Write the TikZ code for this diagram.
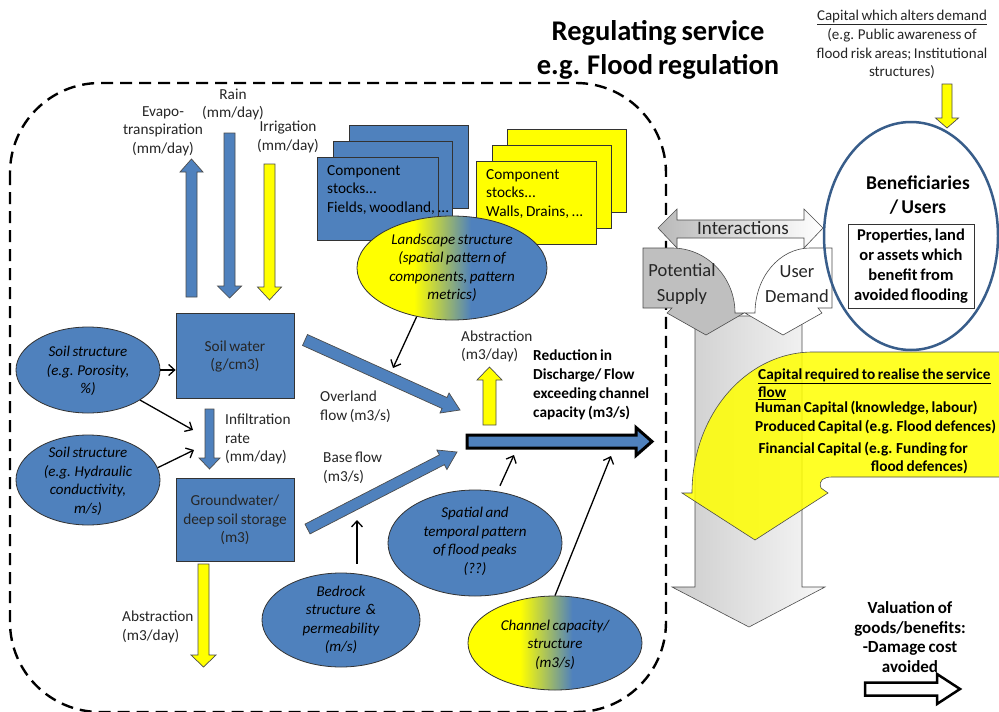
\documentclass[tikz,border=0pt]{standalone}
\usepackage{fontspec}
\setmainfont{Carlito}
\usetikzlibrary{calc,arrows.meta,shapes.geometric}
\definecolor{ofblue}{RGB}{79,129,189}
\definecolor{ofyel}{RGB}{255,255,0}
\definecolor{benline}{RGB}{56,93,138}
\pgfdeclarehorizontalshading{ybshade}{100bp}{color(0bp)=(ofyel); color(40bp)=(ofyel); color(55bp)=(ofblue); color(100bp)=(ofblue)}
\newcommand\fsz[2]{\fontsize{#1}{#2}\selectfont\spaceskip=0.17em\relax}
\newcommand\blockarr[6]{%
  \coordinate (bah) at ($(#3)!#6!(#2)$);
  \draw[#1] ($(#2)!#4!90:(#3)$) -- ($(bah)!#4!-90:(#2)$) -- ($(bah)!#5!-90:(#2)$) -- (#3) -- ($(bah)!#5!90:(#2)$) -- ($(bah)!#4!90:(#2)$) -- ($(#2)!#4!-90:(#3)$) -- cycle;}
\tikzset{
 lbl/.style={font=\fsz{15.3}{18.5}, align=center, inner sep=0pt, text=black!85},
 lbll/.style={lbl, align=left, anchor=west},
 itl/.style={font=\itshape\fsz{15}{18.5}, align=center, inner sep=0pt},
 bx/.style={draw=black!80, line width=0.8pt, fill=ofblue, inner sep=0pt},
 ybx/.style={draw=black!80, line width=0.8pt, fill=ofyel, inner sep=0pt},
 bell/.style={ellipse, draw=black!80, line width=0.8pt, fill=ofblue, inner sep=0pt},
 gell/.style={ellipse, draw=black!80, line width=0.8pt, shading=ybshade, inner sep=0pt},
 barrow/.style={fill=ofblue, draw=black!70, line width=0.7pt},
 yarrow/.style={fill=ofyel, draw=black!70, line width=0.7pt},
 mainarr/.style={fill=ofblue, draw=black, line width=3pt, miter limit=4},
 warrow/.style={fill=white, draw=black, line width=2.5pt},
 con/.style={line width=1.3pt, -{Straight Barb[length=6pt,width=11pt,line width=1.3pt]}},
 bound/.style={line width=2.4pt, dash pattern=on 12pt off 7pt, rounded corners=90pt},
 gline/.style={draw=gray!60!black, line width=0.6pt},
}
\begin{document}
\begin{tikzpicture}[x=1pt,y=-1pt]
\useasboundingbox (0,0) rectangle (999,712);
\fill[white] (0,0) rectangle (999,712);

% title
\node[font=\bfseries\fsz{28.5}{34}, align=center, inner sep=0pt] (title) at (658,50) {Regulating service\\e.g. Flood regulation};

% boundary
\draw[bound] (10,83) rectangle (666,712);

% vertical water arrows
\coordinate (ev1) at (191.5,297); \coordinate (ev2) at (191.5,159);
\blockarr{barrow}{ev1}{ev2}{5.5pt}{11.5pt}{13pt}
\coordinate (ra1) at (229.5,133); \coordinate (ra2) at (229.5,298);
\blockarr{barrow}{ra1}{ra2}{5.5pt}{12pt}{12pt}
\coordinate (ir1) at (269.5,164); \coordinate (ir2) at (269.5,300);
\blockarr{yarrow}{ir1}{ir2}{5.5pt}{12pt}{13pt}
\node[lbl] (evl) at (163,131) {Evapo-\\transpiration\\(mm/day)};
\node[lbl] (ral) at (233,104.5) {Rain\\(mm/day)};
\node[lbl] (irl) at (288,137) {Irrigation\\(mm/day)};

% component stocks
\node[bx, minimum width=119, minimum height=83] (cs3) at (409,166.5) {};
\node[bx, minimum width=119, minimum height=83] (cs2) at (393,182.5) {};
\node[bx, minimum width=121, minimum height=83] (cs1) at (377.5,198.5) {};
\node[lbll, text=black] (cs1t) at (327,190) {Component\\stocks...\\Fields, woodland, ...};
\node[ybx, minimum width=119, minimum height=83] (ys3) at (567,170.5) {};
\node[ybx, minimum width=119, minimum height=83] (ys2) at (551.5,186.5) {};
\node[ybx, minimum width=120, minimum height=83] (ys1) at (536,202.5) {};
\node[lbll, text=black] (ys1t) at (486,194) {Component\\stocks...\\Walls, Drains, ...};

\node[gell, minimum width=190, minimum height=104] (land) at (452,268) {};
\node[itl] (landt) at (452,268) {Landscape structure\\(spatial pattern of\\components, pattern\\metrics)};

% soil boxes
\node[bx, minimum width=118, minimum height=85] (sw) at (235,355.5) {};
\node[lbl] (swt) at (235,356.5) {Soil water\\(g/cm3)};
\node[bx, minimum width=118, minimum height=83] (gw) at (235,519.5) {};
\node[lbl] (gwt) at (235,520) {Groundwater/\\deep soil storage\\(m3)};

\coordinate (in1) at (209.5,409); \coordinate (in2) at (209.5,469);
\blockarr{barrow}{in1}{in2}{4.5pt}{10.5pt}{11pt}
\node[lbll] (inl) at (225,439) {Infiltration\\rate\\(mm/day)};

\coordinate (ab1) at (203.5,564); \coordinate (ab2) at (203.5,667);
\blockarr{yarrow}{ab1}{ab2}{5.5pt}{12.5pt}{12pt}
\node[lbll] (abl) at (122,627) {Abstraction\\(m3/day)};

% soil ellipses
\node[bell, minimum width=144, minimum height=86] (por) at (88,370) {};
\node[itl] (port) at (88,371) {Soil structure\\(e.g. Porosity,\\\%)};
\node[bell, minimum width=144, minimum height=90] (hyd) at (88,480) {};
\node[itl] (hydt) at (88,481.5) {Soil structure\\(e.g. Hydraulic\\conductivity,\\m/s)};
\draw[con] (por.east) -- (sw.west |- por.east);
\coordinate (inf1) at (193,430); \draw[con] (por.-30) -- (inf1);
\coordinate (inf2) at (194,450); \draw[con] (hyd.10) -- (inf2);

% overland and base flow
\coordinate (ov1) at (305,340); \coordinate (ov2) at (460,410);
\blockarr{barrow}{ov1}{ov2}{6pt}{11pt}{17pt}
\node[lbll] (ovt) at (320,406.5) {Overland\\flow (m3/s)};
\coordinate (ovl) at (393,368); \draw[con] (land.234) -- (ovl);
\coordinate (bf1) at (307.5,529); \coordinate (bf2) at (457,452);
\blockarr{barrow}{bf1}{bf2}{5.5pt}{11pt}{17pt}
\node[lbll] (bft) at (323,468) {Base flow\\(m3/s)};

% main discharge
\coordinate (ma1) at (467,441.5); \coordinate (ma2) at (652,441.5);
\blockarr{mainarr}{ma1}{ma2}{6.5pt}{14pt}{16pt}
\coordinate (at1) at (489.5,425); \coordinate (at2) at (489.5,367);
\blockarr{yarrow}{at1}{at2}{6.5pt}{12.5pt}{13pt}
\node[lbll] (atl) at (461,346.5) {Abstraction\\(m3/day)};
\node[lbll, font=\bfseries\fsz{15.3}{19}, text=black] (red) at (533,385) {Reduction in\\Discharge/ Flow\\exceeding channel\\capacity (m3/s)};

% bottom ellipses
\node[bell, minimum width=174, minimum height=106] (sp) at (475,543) {};
\node[itl] (spt) at (475,541.5) {Spatial and\\temporal pattern\\of flood peaks\\(??)};
\node[bell, minimum width=158, minimum height=94] (br) at (341,620) {};
\node[itl] (brt) at (341,620) {Bedrock\\structure \ \&\\permeability\\(m/s)};
\node[gell, minimum width=174, minimum height=94] (ch) at (555,643) {};
\node[itl] (cht) at (555,644.5) {Channel capacity/\\structure\\(m3/s)};
\coordinate (bfl) at (357,520); \draw[con] ([xshift=16pt,yshift=9pt]br.north) -- (bfl);
\coordinate (mA) at (514,455); \draw[con] ([yshift=6pt]sp.64) -- (mA);
\coordinate (mB) at (611,456); \draw[con] (ch.north) -- (mB);

% right side: big grey arrow
\path[gline, left color=gray!40, right color=gray!6] (695,316) -- (802,316) -- (802,587) -- (825,587) -- (749,627) -- (672,587) -- (695,587) -- cycle;
\path[gline, fill=gray!50] (643,248) -- (672,248) .. controls (706.8,248) and (735,277.1) .. (735,313) -- (744,313) -- (706,335) -- (667,313) -- (672,308) -- (643,308) -- cycle;
\path[gline, fill=white] (832,248) -- (810,248) .. controls (779.6,248) and (755,277.1) .. (755,313) -- (745,313) -- (783,335) -- (822,313) -- (818,308) -- (832,308) -- cycle;
\path[gline, left color=gray!55, right color=white] (658,228) -- (677,209) -- (677,220) -- (804,220) -- (804,209) -- (823,228) -- (804,248) -- (804,238) -- (677,238) -- (677,248) -- cycle;
\node[lbl, font=\fsz{19}{24}] (intt) at (743,228) {Interactions};
\node[lbl, font=\fsz{18.5}{25}] (pst) at (682,284.5) {Potential\\Supply};
\node[lbl, font=\fsz{18.5}{25}] (udt) at (797,284.5) {User\\Demand};

% yellow curved arrow
\path[gline, fill=ofyel, fill opacity=0.85] (1005,352) -- (813,352) .. controls (746.2,352) and (692,415.1) .. (692,493) -- (682,493) -- (755,540) -- (828,493) -- (821,488) .. controls (818,480) and (824,477) .. (832,477) -- (1005,477) -- cycle;
\node[lbll, font=\bfseries\fsz{15.3}{18}, text=black] (capt) at (758,384) {\underline{Capital required to realise the service}\\\underline{flow}};
\node[lbll, font=\bfseries\fsz{15.3}{19}, text=black] (hum) at (755,408) {Human Capital (knowledge, labour)};
\node[lbll, font=\bfseries\fsz{15.3}{19}, text=black] (pro) at (755,427) {Produced Capital (e.g. Flood defences)};
\node[lbl, font=\bfseries\fsz{15.3}{18}, text=black, align=right, anchor=east] (fin) at (968,458) {Financial Capital (e.g. Funding for\\flood defences)};

% beneficiaries
\node[ellipse, draw=benline, line width=2.5pt, minimum width=174, minimum height=228, inner sep=0pt] (ben) at (911,236) {};
\coordinate (cd1) at (947,84); \coordinate (cd2) at (947,128);
\blockarr{yarrow}{cd1}{cd2}{5pt}{11.5pt}{10pt}
\node[lbl, font=\fsz{15}{18.7}] (cadt) at (902,44.5) {\underline{Capital which alters demand}\\(e.g. Public awareness of\\flood risk areas; Institutional\\structures)};
\node[lbl, font=\bfseries\fsz{19.5}{24}, text=black] (bent) at (918,195) {Beneficiaries\\/ Users};
\node[draw=black!80, line width=0.8pt, fill=white, minimum width=126, minimum height=84, inner sep=0pt] (prop) at (911,266) {};
\node[lbl, font=\bfseries\fsz{16.5}{20}, text=black] (propt) at (911,266) {Properties, land\\or assets which\\benefit from\\avoided flooding};

% valuation
\node[lbl, font=\bfseries\fsz{17}{19.5}, text=black] (val) at (910,637) {Valuation of\\goods/benefits:\\-Damage cost\\avoided};
\coordinate (va1) at (865,689); \coordinate (va2) at (960,689);
\blockarr{warrow}{va1}{va2}{6.5pt}{15pt}{23pt}
\end{tikzpicture}
\end{document}
